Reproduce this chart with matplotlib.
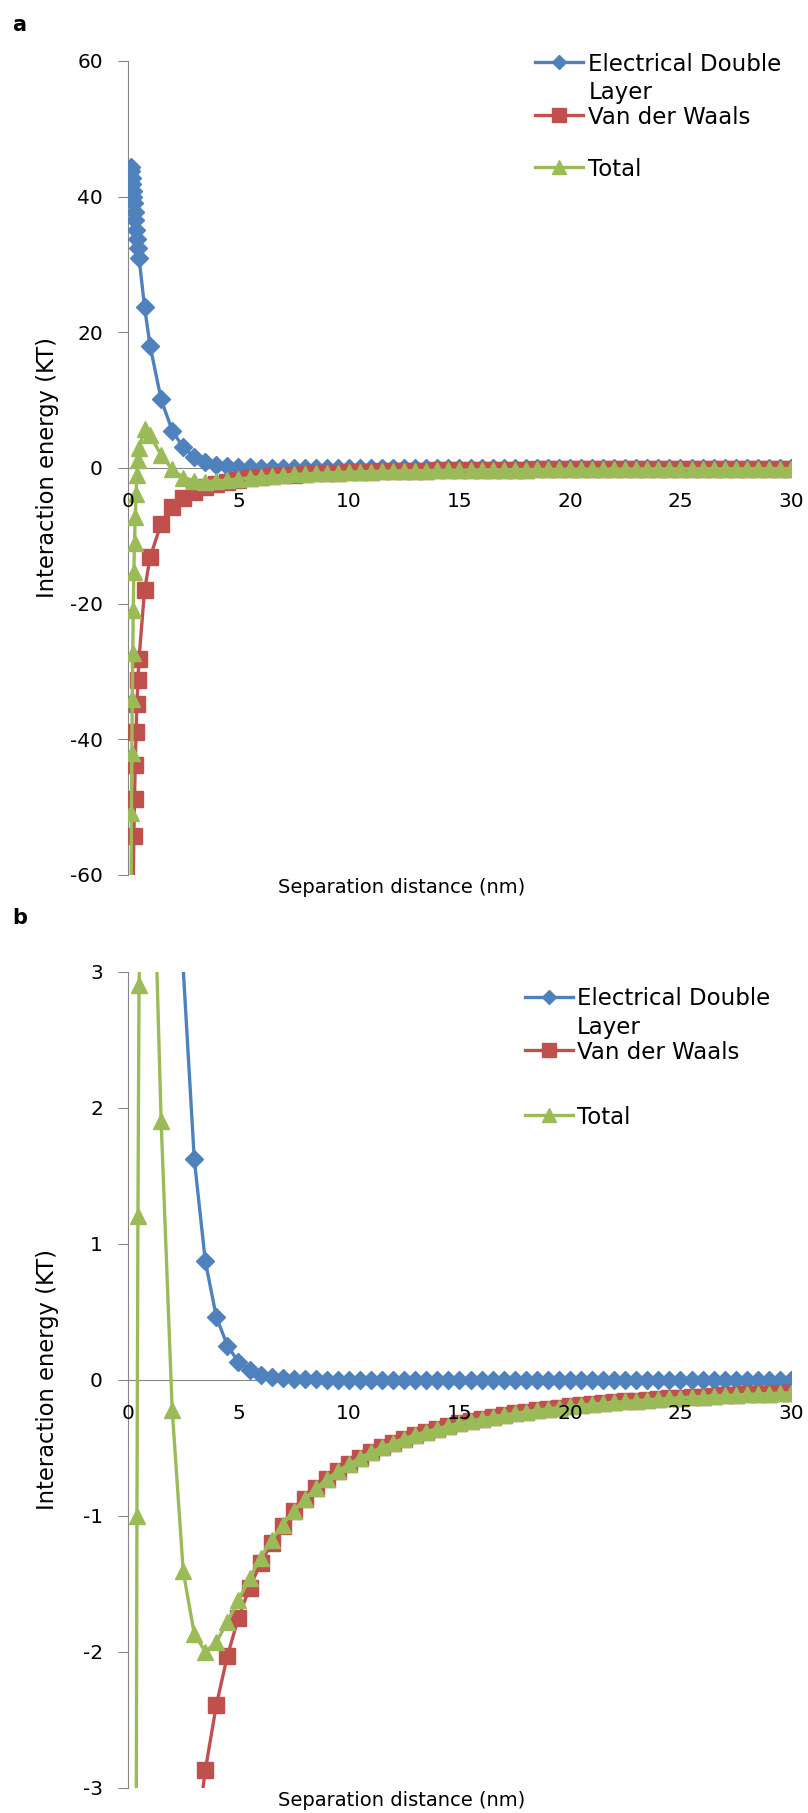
import numpy as np
import matplotlib.pyplot as plt

plt.rcParams['font.family'] = ['DejaVu Sans']
plt.rcParams['axes.unicode_minus'] = False

# ===== data =====
sep_nm = [0.141, 0.157, 0.174, 0.194, 0.215, 0.239, 0.266, 0.295, 0.328, 0.365,
          0.405, 0.45, 0.5, 0.75, 1.0,
          1.5, 2.0, 2.5, 3.0, 3.5, 4.0, 4.5, 5.0, 5.5, 6.0, 6.5, 7.0, 7.5, 8.0, 8.5, 9.0,
          9.5, 10.0, 10.5, 11.0, 11.5, 12.0, 12.5, 13.0, 13.5, 14.0,
          14.5, 15.0, 15.5, 16.0, 16.5, 17.0, 17.5, 18.0, 18.5, 19.0,
          19.5, 20.0, 20.5, 21.0, 21.5, 22.0, 22.5, 23.0, 23.5, 24.0,
          24.5, 25.0, 25.5, 26.0, 26.5, 27.0, 27.5, 28.0, 28.5, 29.0,
          29.5, 30.0]

edl_kt = [44.4, 43.7, 42.8, 41.8, 40.8, 40.0, 39.0, 37.8, 36.6, 35.1,
          33.8, 32.4, 31.0, 23.7, 18.0,
          10.1, 5.5, 3.02, 1.62, 0.87, 0.46, 0.25, 0.13, 0.068, 0.036, 0.019, 0.010, 0.005, 0.003, 0.002, 0.001,
          0, 0, 0, 0, 0, 0, 0, 0, 0, 0,
          0, 0, 0, 0, 0, 0, 0, 0, 0, 0,
          0, 0, 0, 0, 0, 0, 0, 0, 0, 0,
          0, 0, 0, 0, 0, 0, 0, 0, 0, 0,
          0, 0]

vdw_kt = [-106.4, -94.5, -84.8, -75.9, -68.1, -60.9, -54.3, -48.8, -43.8, -39.0,
          -34.8, -31.2, -28.1, -18.0, -13.2,
          -8.2, -5.72, -4.40, -3.49, -2.87, -2.39, -2.03, -1.75, -1.53, -1.35, -1.20, -1.075, -0.969, -0.879, -0.800, -0.733,
          -0.673, -0.621, -0.575, -0.533, -0.496, -0.463, -0.433, -0.406, -0.382, -0.360,
          -0.339, -0.320, -0.303, -0.287, -0.273, -0.259, -0.247, -0.235, -0.224, -0.214,
          -0.205, -0.196, -0.188, -0.180, -0.173, -0.166, -0.160, -0.154, -0.148, -0.142,
          -0.137, -0.132, -0.128, -0.124, -0.119, -0.116, -0.112, -0.108, -0.105, -0.102,
          -0.099, -0.096]

total_kt = [-62.0, -50.8, -42.0, -34.1, -27.3, -20.9, -15.3, -11.0, -7.2, -3.9,
            -1.0, 1.2, 2.9, 5.7, 4.8,
            1.9, -0.22, -1.41, -1.87, -2.00, -1.93, -1.78, -1.62, -1.46, -1.31, -1.18, -1.065, -0.964, -0.876, -0.798, -0.732,
            -0.673, -0.621, -0.575, -0.533, -0.496, -0.463, -0.433, -0.406, -0.382, -0.360,
            -0.339, -0.320, -0.303, -0.287, -0.273, -0.259, -0.247, -0.235, -0.224, -0.214,
            -0.205, -0.196, -0.188, -0.180, -0.173, -0.166, -0.160, -0.154, -0.148, -0.142,
            -0.137, -0.132, -0.128, -0.124, -0.119, -0.116, -0.112, -0.108, -0.105, -0.102,
            -0.099, -0.096]

series_labels = ["Electrical Double\nLayer", "Van der Waals", "Total"]
x_ticks = [0, 5, 10, 15, 20, 25, 30]

# ===== style =====
colors = ["#4F81BD", "#C0504D", "#9BBB59"]
markers = ["D", "s", "^"]
msizes = [8.7, 11.5, 12]
gray = "#868686"

fig = plt.figure(figsize=(8.08, 18.13), dpi=100)
ax_a = fig.add_axes([0.1584, 0.5174, 0.8205, 0.4490])
ax_b = fig.add_axes([0.1584, 0.01396, 0.8205, 0.4501])


def draw_panel(ax, ylim, ystep, key_x, key_rows):
    lo, hi = ylim
    for vals, col, mk, ms in zip([edl_kt, vdw_kt, total_kt], colors, markers, msizes):
        v = np.array(vals, dtype=float)
        ax.plot(sep_nm, v, color=col, lw=2.4, zorder=3)
        # like Excel: no markers for points outside the plot area
        ax.plot(sep_nm, np.ma.masked_outside(v, lo, hi), ls="none", marker=mk, ms=ms,
                color=col, mec=col, zorder=3)

    ax.set_xlim(0, 30)
    ax.set_ylim(lo, hi)
    ax.set_xticks(x_ticks)
    ax.set_yticks(np.arange(lo, hi + ystep / 2, ystep))
    ax.yaxis.set_major_formatter(plt.FuncFormatter(lambda v, p: f"{v:g}"))
    for s in ("top", "right"):
        ax.spines[s].set_visible(False)
    ax.spines["bottom"].set_position(("data", 0))
    for s in ("left", "bottom"):
        ax.spines[s].set_color(gray)
        ax.spines[s].set_linewidth(0.8)
    ax.tick_params(axis="x", length=0, labelbottom=False)
    ax.tick_params(axis="y", length=7, width=0.8, color=gray, pad=11, labelsize=14.5)

    # x tick labels sit well below the zero line
    for t in x_ticks:
        ax.annotate(f"{t}", xy=(t, 0), xytext=(0, -17.5), textcoords="offset points",
                    ha="center", va="top", fontsize=14.5, annotation_clip=False)

    ax.set_xlabel("Separation distance (nm)", fontsize=14, va="center")
    ax.xaxis.set_label_coords(0.413, -0.016)
    ax.set_ylabel("Interaction energy (KT)", fontsize=16.3, va="center")
    ax.yaxis.set_label_coords(-0.1207, 0.5)

    # legend drawn by hand (Excel-like layout)
    x0, x1, xt = key_x
    for lab, col, mk, ms, y in zip(series_labels, colors, markers, msizes, key_rows):
        ax.plot([x0, x1], [y, y], color=col, lw=2.4, transform=ax.transAxes, clip_on=False)
        ax.plot([(x0 + x1) / 2], [y], marker=mk, ms=ms * 0.85, color=col, mec=col,
                transform=ax.transAxes, clip_on=False)
        ax.annotate(lab, xy=(xt, y), xycoords="axes fraction", xytext=(0, 6.6),
                    textcoords="offset points", fontsize=16.5, va="top", ha="left",
                    linespacing=1.3, annotation_clip=False)


draw_panel(ax_a, (-60, 60), 20, (0.6139, 0.6868, 0.6943), (0.999, 0.9337, 0.870))
draw_panel(ax_b, (-3, 3), 1, (0.5988, 0.6717, 0.6767), (0.9694, 0.904, 0.8244))

fig.text(19 / 808, 1 - 25 / 1813, "a", fontsize=15, fontweight="bold", ha="center", va="center")
fig.text(20 / 808, 1 - 918 / 1813, "b", fontsize=15, fontweight="bold", ha="center", va="center")

fig.savefig("out.png", dpi=100)
